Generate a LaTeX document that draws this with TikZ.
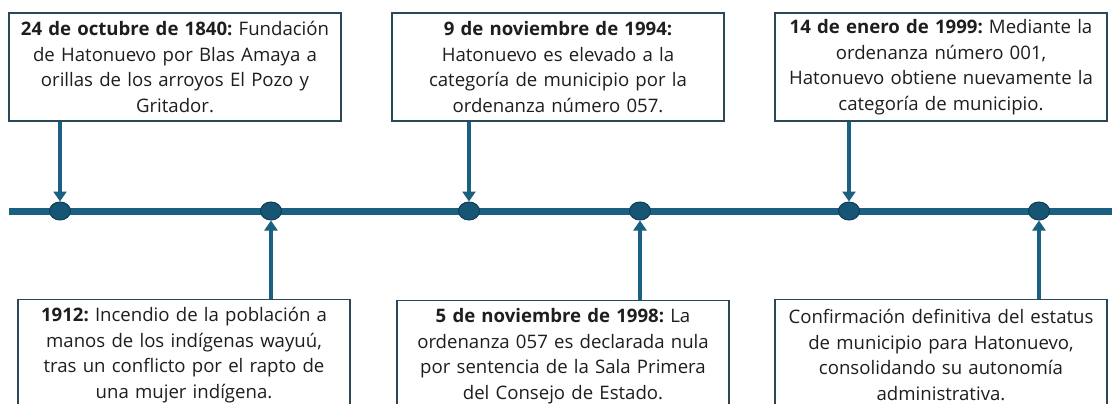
\documentclass[tikz,border=0pt]{standalone}
\usepackage{fontspec}
\setmainfont{Open Sans}
\frenchspacing
\usetikzlibrary{arrows.meta,shapes.geometric}
\definecolor{tl}{RGB}{27,96,128}
\definecolor{dotfill}{RGB}{22,86,116}
\definecolor{dotc}{RGB}{16,62,86}
\definecolor{boxc}{RGB}{44,72,88}
\definecolor{txtc}{RGB}{30,30,30}
\begin{document}
\begin{tikzpicture}[x=1pt,y=-1pt,
  box/.style={draw=boxc, line width=1.3pt, fill=white, minimum width=332pt, inner xsep=3pt, inner ysep=0pt,
    text width=326pt, align=center, font=\fontsize{18.6}{25.5}\selectfont, text=txtc},
  topbox/.style={box, minimum height=108pt},
  botbox/.style={box, minimum height=111pt},
  dot/.style={ellipse, draw=dotc, fill=dotfill, minimum width=21pt, minimum height=18pt, line width=1pt, inner sep=0pt},
  con/.style={draw=tl, line width=4pt, -{Triangle[width=13pt,length=10pt]}},
  axis/.style={draw=tl, line width=7pt}]
\useasboundingbox (0,0) rectangle (1112,404);
\clip (0,0) rectangle (1112,404);
% timeline
\coordinate (ls) at (9,211);
\coordinate (le) at (1112,211);
\draw[axis] (ls) -- (le);
% dots
\node[dot] (d1) at (60,211) {};
\node[dot] (d2) at (271,211) {};
\node[dot] (d3) at (469,211) {};
\node[dot] (d4) at (640,211) {};
\node[dot] (d5) at (849,211) {};
\node[dot] (d6) at (1039,211) {};
% top boxes
\node[topbox] (b1) at (175,67) {\textbf{24 de octubre de 1840:} Fundación\\ de Hatonuevo por Blas Amaya a\\ orillas de los arroyos El Pozo y\\ Gritador.};
\node[topbox] (b3) at (558,67) {\textbf{9 de noviembre de 1994:}\\ Hatonuevo es elevado a la\\ categoría de municipio por la\\ ordenanza número 057.};
\node[topbox] (b5) at (941,67) {\textbf{14 de enero de 1999:} Mediante la\\ ordenanza número 001,\\ Hatonuevo obtiene nuevamente la\\ categoría de municipio.};
% bottom boxes
\node[botbox] (b2) at (184,355) {\textbf{1912:} Incendio de la población a\\ manos de los indígenas wayuú,\\ tras un conflicto por el rapto de\\ una mujer indígena.};
\node[botbox] (b4) at (563,356) {\textbf{5 de noviembre de 1998:} La\\ ordenanza 057 es declarada nula\\ por sentencia de la Sala Primera\\ del Consejo de Estado.};
\node[botbox] (b6) at (941,355) {Confirmación definitiva del estatus\\ de municipio para Hatonuevo,\\ consolidando su autonomía\\ administrativa.};
% connectors
\draw[con] (b1.south -| d1) -- (d1.north);
\draw[con] (b3.south -| d3) -- (d3.north);
\draw[con] (b5.south -| d5) -- (d5.north);
\draw[con] (b2.north -| d2) -- (d2.south);
\draw[con] (b4.north -| d4) -- (d4.south);
\draw[con] (b6.north -| d6) -- (d6.south);
\end{tikzpicture}
\end{document}
